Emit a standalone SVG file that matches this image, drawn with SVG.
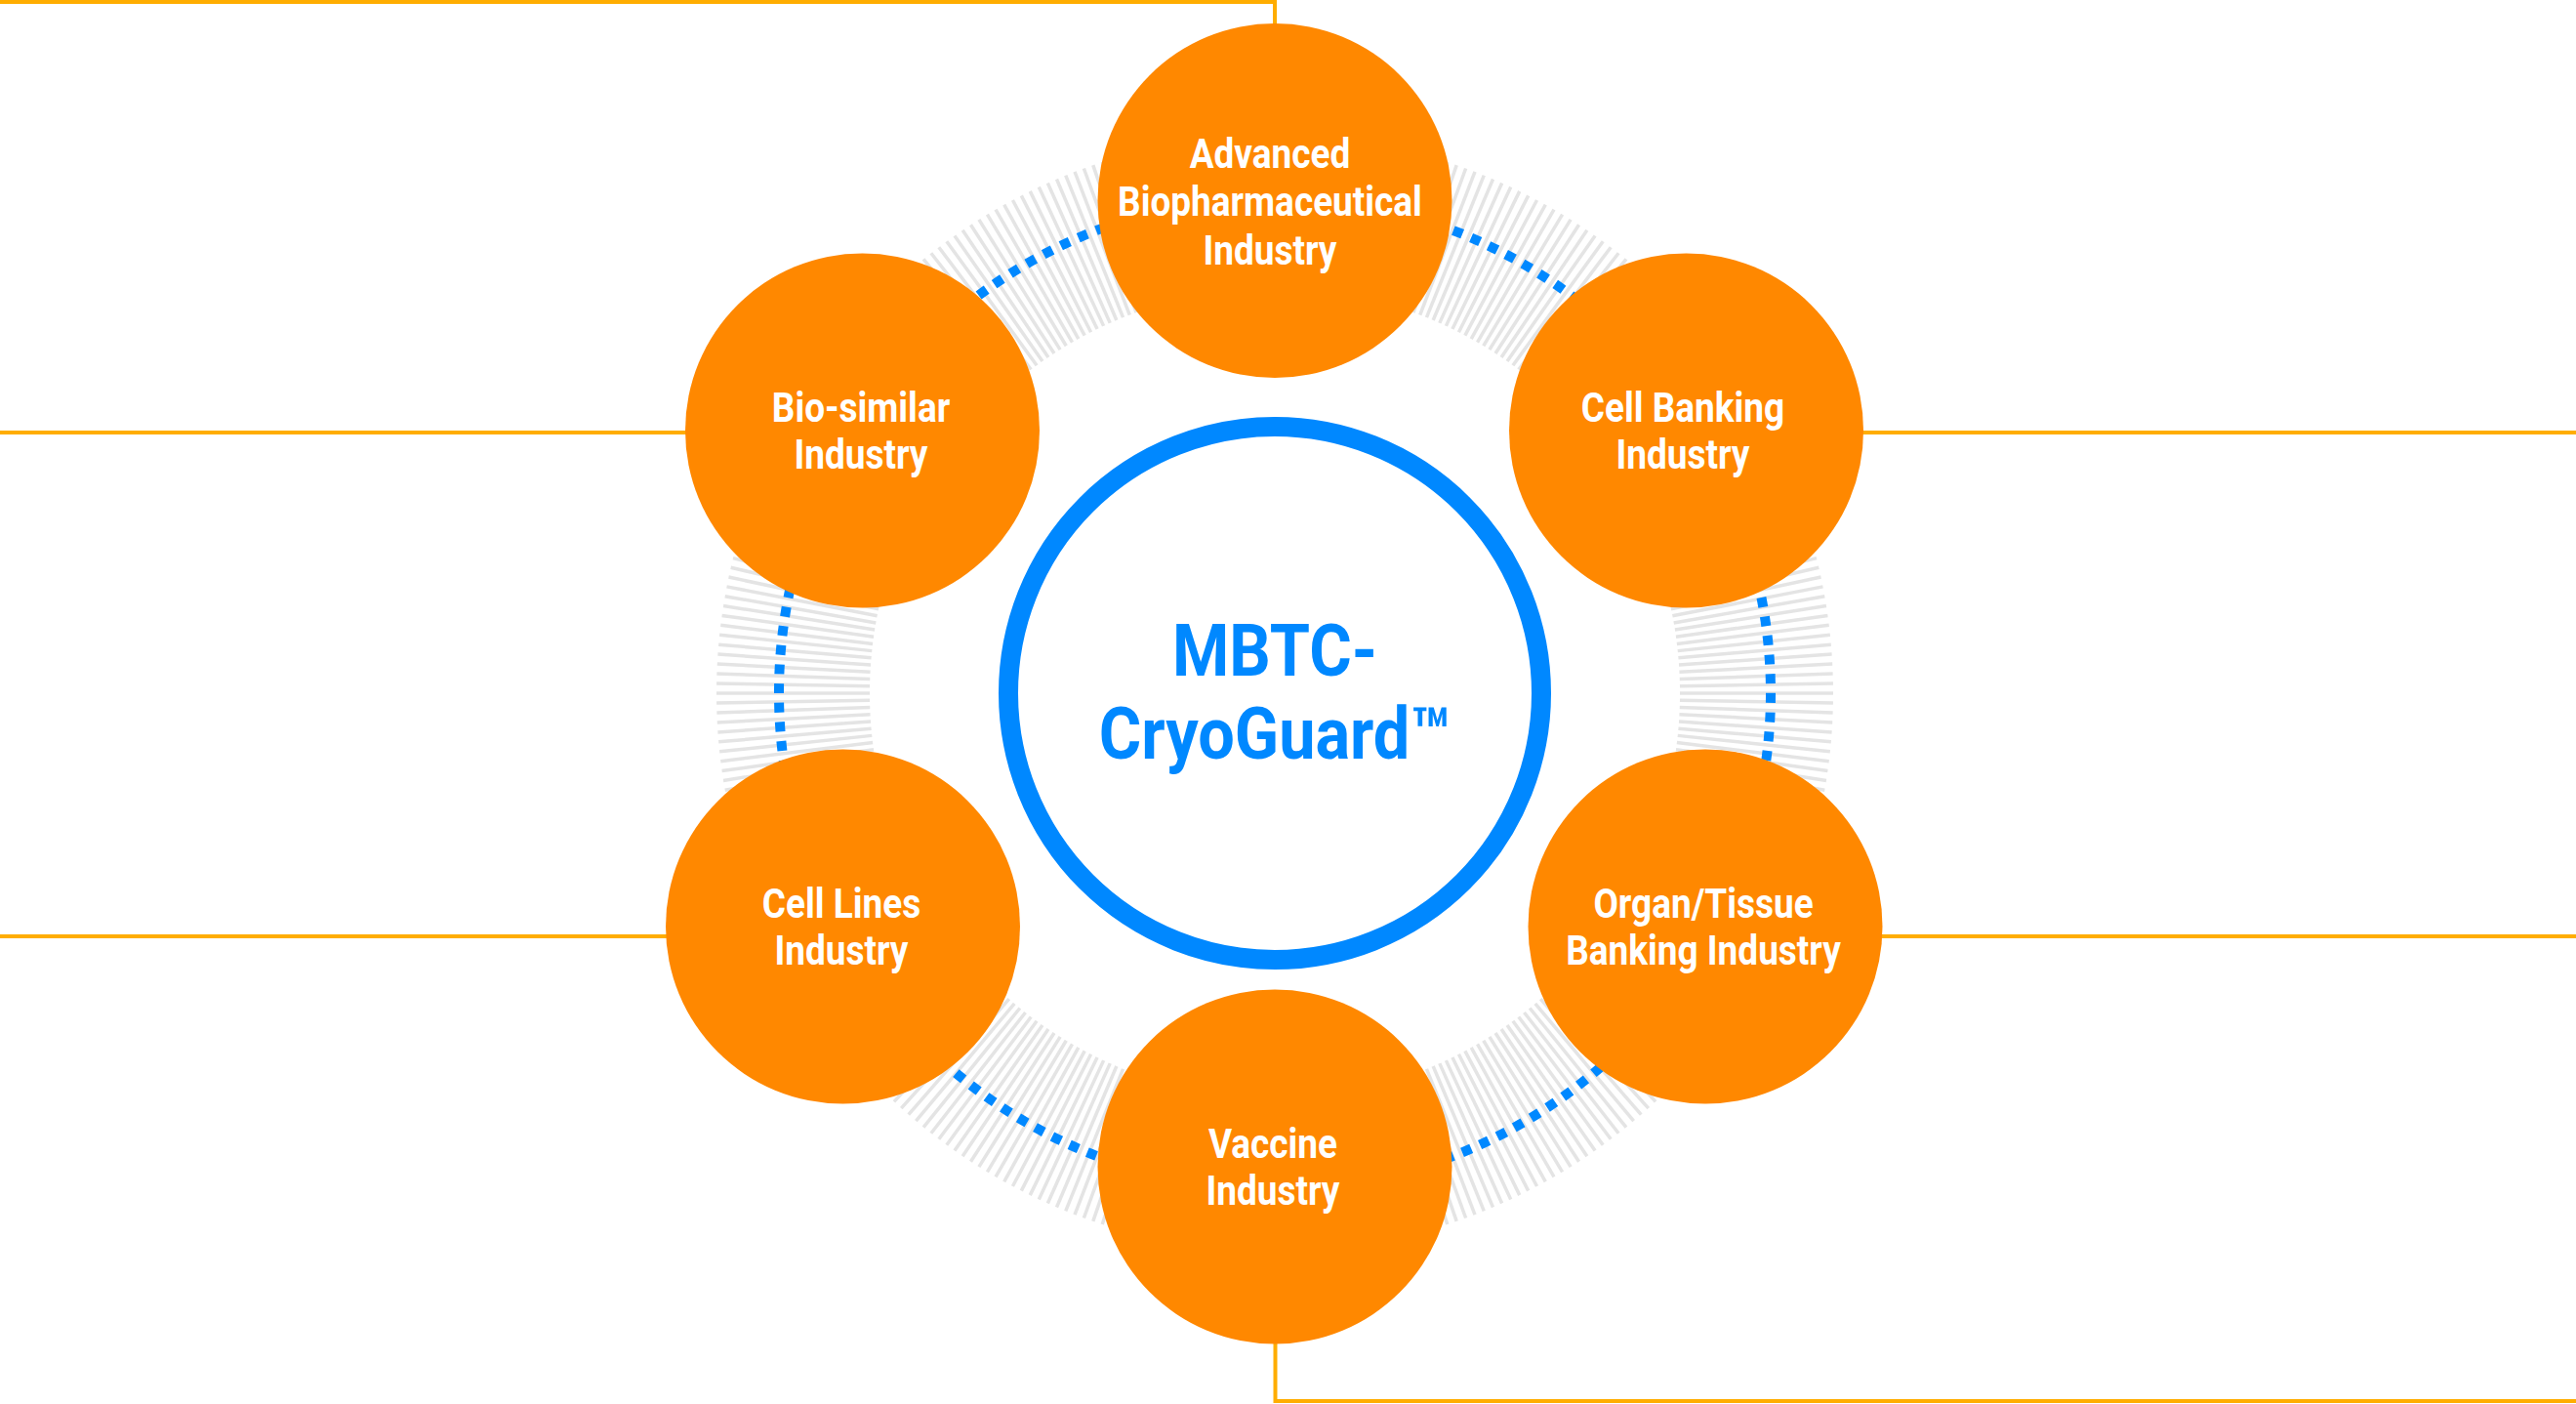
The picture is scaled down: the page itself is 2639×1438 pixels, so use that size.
<svg xmlns="http://www.w3.org/2000/svg" width="2639" height="1438" viewBox="0 0 2639 1438">
<style>
.lead{fill:none;stroke:#FFAD00;stroke-width:4}
.node{fill:#FF8800}
.lbl{font-family:Roboto,"Liberation Sans",sans-serif;font-weight:700;font-size:42px;fill:#FFFFFF;text-anchor:middle}
.ctr{font-family:Roboto,"Liberation Sans",sans-serif;font-weight:700;font-size:74px;fill:#0088FF;text-anchor:middle}
</style>
<defs>
<line id="t" x1="415" y1="0" x2="572" y2="0" stroke="#E4E4E4" stroke-width="3.5"/>
<g id="t10">
<use href="#t"/><use href="#t" transform="rotate(1)"/><use href="#t" transform="rotate(2)"/><use href="#t" transform="rotate(3)"/><use href="#t" transform="rotate(4)"/><use href="#t" transform="rotate(5)"/><use href="#t" transform="rotate(6)"/><use href="#t" transform="rotate(7)"/><use href="#t" transform="rotate(8)"/><use href="#t" transform="rotate(9)"/>
</g>
</defs>
<rect width="2639" height="1438" fill="#FFFFFF"/>
<g id="ticks" transform="translate(1306 710)">
<use href="#t10"/><use href="#t10" transform="rotate(10)"/><use href="#t10" transform="rotate(20)"/><use href="#t10" transform="rotate(30)"/><use href="#t10" transform="rotate(40)"/><use href="#t10" transform="rotate(50)"/><use href="#t10" transform="rotate(60)"/><use href="#t10" transform="rotate(70)"/><use href="#t10" transform="rotate(80)"/><use href="#t10" transform="rotate(90)"/><use href="#t10" transform="rotate(100)"/><use href="#t10" transform="rotate(110)"/><use href="#t10" transform="rotate(120)"/><use href="#t10" transform="rotate(130)"/><use href="#t10" transform="rotate(140)"/><use href="#t10" transform="rotate(150)"/><use href="#t10" transform="rotate(160)"/><use href="#t10" transform="rotate(170)"/><use href="#t10" transform="rotate(180)"/><use href="#t10" transform="rotate(190)"/><use href="#t10" transform="rotate(200)"/><use href="#t10" transform="rotate(210)"/><use href="#t10" transform="rotate(220)"/><use href="#t10" transform="rotate(230)"/><use href="#t10" transform="rotate(240)"/><use href="#t10" transform="rotate(250)"/><use href="#t10" transform="rotate(260)"/><use href="#t10" transform="rotate(270)"/><use href="#t10" transform="rotate(280)"/><use href="#t10" transform="rotate(290)"/><use href="#t10" transform="rotate(300)"/><use href="#t10" transform="rotate(310)"/><use href="#t10" transform="rotate(320)"/><use href="#t10" transform="rotate(330)"/><use href="#t10" transform="rotate(340)"/><use href="#t10" transform="rotate(350)"/>
</g>
<g id="connectors">
<circle cx="1306" cy="710" r="508" fill="none" stroke="#0088FF" stroke-width="10" stroke-dasharray="10 9.7"/>
<polyline class="lead" points="0,2 1306,2 1306,40"/>
<line class="lead" x1="0" y1="443" x2="720" y2="443"/>
<line class="lead" x1="1890" y1="443" x2="2639" y2="443"/>
<line class="lead" x1="0" y1="959" x2="700" y2="959"/>
<line class="lead" x1="1910" y1="959" x2="2639" y2="959"/>
<polyline class="lead" points="1306.5,1360 1306.5,1435 2639,1435"/>
</g>
<g id="center">
<circle cx="1306" cy="710" r="273" fill="#FFFFFF" stroke="#0088FF" stroke-width="20"/>
<text class="ctr" transform="translate(1306 0) scale(0.9 1)"><tspan x="0" y="692">MBTC-</tspan><tspan x="0" y="777">CryoGuard™</tspan></text>
</g>
<g id="node-advanced">
<circle class="node" cx="1306" cy="205.5" r="181.5"/>
<text class="lbl" transform="translate(1301 0) scale(0.88 1)"><tspan x="0" y="172">Advanced</tspan><tspan x="0" y="221">Biopharmaceutical</tspan><tspan x="0" y="271">Industry</tspan></text>
</g>
<g id="node-cellbanking">
<circle class="node" cx="1727.5" cy="441" r="181.5"/>
<text class="lbl" transform="translate(1724 0) scale(0.88 1)"><tspan x="0" y="432">Cell Banking</tspan><tspan x="0" y="480">Industry</tspan></text>
</g>
<g id="node-biosimilar">
<circle class="node" cx="883.5" cy="441" r="181.5"/>
<text class="lbl" transform="translate(882 0) scale(0.88 1)"><tspan x="0" y="432">Bio-similar</tspan><tspan x="0" y="480">Industry</tspan></text>
</g>
<g id="node-celllines">
<circle class="node" cx="863.5" cy="949" r="181.5"/>
<text class="lbl" transform="translate(862 0) scale(0.88 1)"><tspan x="0" y="940">Cell Lines</tspan><tspan x="0" y="988">Industry</tspan></text>
</g>
<g id="node-organ">
<circle class="node" cx="1747" cy="949" r="181.5"/>
<text class="lbl" transform="translate(1745 0) scale(0.88 1)"><tspan x="0" y="940">Organ/Tissue</tspan><tspan x="0" y="988">Banking Industry</tspan></text>
</g>
<g id="node-vaccine">
<circle class="node" cx="1306" cy="1195" r="181.5"/>
<text class="lbl" transform="translate(1304 0) scale(0.88 1)"><tspan x="0" y="1186">Vaccine</tspan><tspan x="0" y="1234">Industry</tspan></text>
</g>
</svg>
